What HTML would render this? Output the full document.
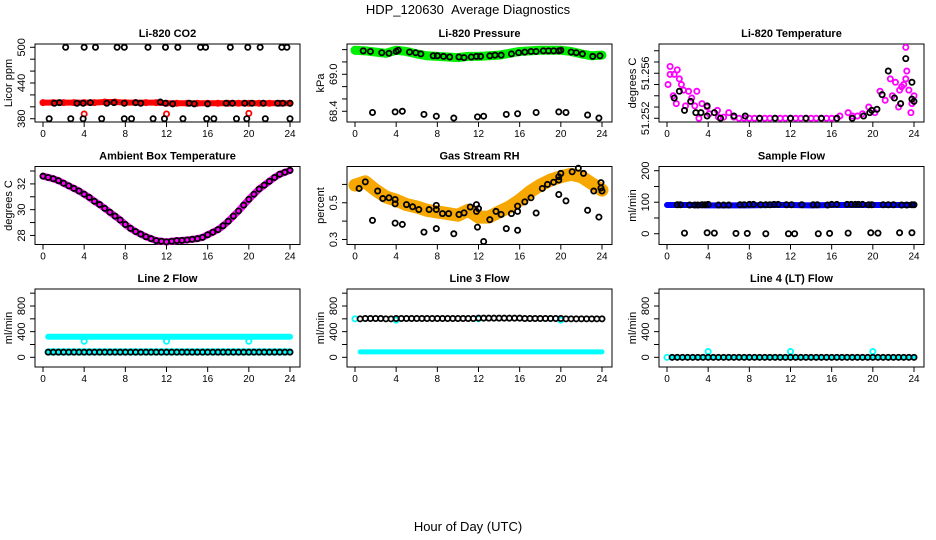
<!DOCTYPE html>
<html><head><meta charset="utf-8"><style>
html,body{margin:0;padding:0;background:#fff;}
svg{display:block;font-family:"Liberation Sans",Arial,sans-serif;}
</style></head><body>
<svg id="chart" width="936" height="540" viewBox="0 0 936 540" xmlns="http://www.w3.org/2000/svg">
<rect x="0" y="0" width="936" height="540" fill="#fff"/>
<text x="468" y="14" font-size="13" text-anchor="middle">HDP_120630 &#160;Average Diagnostics</text>
<text x="468" y="531" font-size="13" text-anchor="middle">Hour of Day (UTC)</text>
</svg>
<script>
// ---------- data ----------
const xTicks=[0,4,8,12,16,20,24];
// P1 CO2
const co2RedHours=[0,1,2,3,4,5,6,7,8,9,10,11,12,13,14,15,16,17,18,19,20,21,22,23,24];
const co2RedValues=[407,407,407,407,407,407,408,408,407,407,407,407,406,406,406,406,406,406,406,406,406,406,406,406,406];
const co2RedOutHours=[4,12,20];
const co2RedOutValues=[388,388,389];
const co2BlackHours=[2.2,4.0,5.1,7.2,7.9,10.2,11.9,13.1,15.3,15.8,18.2,19.9,21.1,23.2,23.7,0.6,2.7,3.9,5.7,7.9,8.6,10.7,11.8,13.6,15.9,16.6,18.8,19.8,21.6,24.0,1.1,1.6,3.3,3.9,4.6,6.2,6.9,7.9,9.0,9.5,11.4,11.9,12.6,14.2,14.7,16.0,17.8,18.4,19.6,20.3,21.4,22.8,23.3,24.0];
const co2BlackValues=[500,500,500,500,500,500,500,500,500,500,500,500,500,500,500,380,380,380,380,380,380,380,380,380,380,380,380,380,380,380,406,407,406,406,407,406,407,406,407,406,408,406,405,406,405,405,406,406,406,406,406,406,406,406];
// P2 Pressure
const presHours=[0,1,2,3,4,5,6,7,8,9,10,11,12,13,14,15,16,17,18,19,20,21,22,23,24];
const presValues=[69.39,69.38,69.36,69.34,69.39,69.37,69.33,69.30,69.29,69.28,69.27,69.29,69.29,69.30,69.31,69.34,69.37,69.38,69.39,69.39,69.39,69.37,69.33,69.30,69.31];
const presBlackHours=[1.7,3.9,4.6,6.7,7.9,9.6,11.9,12.5,14.7,15.8,17.6,19.8,20.5,22.6,23.7,0.8,1.5,2.6,3.3,4.0,4.2,5.3,5.9,6.4,7.6,8.0,8.6,9.2,10.1,10.6,11.3,11.8,12.2,13.1,13.6,14.2,15.2,15.9,16.5,17.1,17.6,18.3,18.8,19.3,19.8,20.0,21.0,21.5,22.1,23.1,23.8];
const presBlackValues=[68.38,68.39,68.40,68.35,68.32,68.29,68.31,68.32,68.35,68.36,68.38,68.39,68.38,68.34,68.29,69.38,69.37,69.35,69.34,69.37,69.39,69.36,69.35,69.33,69.30,69.30,69.29,69.28,69.28,69.27,69.28,69.29,69.29,69.30,69.31,69.31,69.33,69.35,69.36,69.37,69.37,69.38,69.38,69.38,69.38,69.39,69.36,69.35,69.33,69.29,69.30];
// P3 Li-820 Temperature
const tempMagHours=[0.1,0.3,0.3,0.7,1.0,1.2,1.4,0.6,0.9,1.6,2.1,2.4,2.9,1.8,2.7,3.4,3.9,4.1,3.1,4.9,6.0,5.0,5.5,6.5,7.0,7.5,8.0,8.5,9.0,9.5,10.0,10.5,11.0,11.5,12.0,12.5,13.0,13.5,14.0,14.5,15.0,15.5,16.0,16.5,16.8,17.6,18.0,18.5,19.0,19.6,20.2,20.7,21.2,21.7,22.2,22.5,22.8,23.2,23.2,23.3,23.5,23.8,23.7,24.0,21.9,22.6,23.0];
const tempMagValues=[51.2550,51.2566,51.2559,51.2559,51.2563,51.2555,51.2550,51.2540,51.2533,51.2545,51.2544,51.2538,51.2544,51.2531,51.2531,51.2533,51.2530,51.2524,51.2520,51.2527,51.2525,51.2521,51.2521,51.2521,51.2520,51.2520,51.2520,51.2520,51.2520,51.2520,51.2520,51.2520,51.2520,51.2520,51.2520,51.2520,51.2520,51.2520,51.2520,51.2520,51.2520,51.2520,51.2520,51.2520,51.2522,51.2525,51.2522,51.2522,51.2524,51.2530,51.2525,51.2544,51.2536,51.2555,51.2552,51.2530,51.2548,51.2555,51.2583,51.2562,51.2545,51.2533,51.2525,51.2540,51.2540,51.2545,51.2550];
const tempBlackHours=[0.7,1.2,1.7,2.3,2.8,3.3,3.9,3.9,4.6,5.2,6.5,7.6,9.0,10.5,12.0,13.5,15.0,16.5,18.0,19.1,19.7,19.9,20.4,20.9,21.5,22.1,22.7,23.2,23.8,23.8,24.0];
const tempBlackValues=[51.2538,51.2544,51.2527,51.2535,51.2525,51.2525,51.2531,51.2522,51.2525,51.2520,51.2522,51.2522,51.2520,51.2520,51.2520,51.2520,51.2520,51.2520,51.2520,51.2522,51.2525,51.2527,51.2528,51.2541,51.2562,51.2538,51.2533,51.2573,51.2552,51.2537,51.2535];
// P4 Ambient box temperature (half-hourly)
const boxHours=[0,0.5,1,1.5,2,2.5,3,3.5,4,4.5,5,5.5,6,6.5,7,7.5,8,8.5,9,9.5,10,10.5,11,11.5,12,12.5,13,13.5,14,14.5,15,15.5,16,16.5,17,17.5,18,18.5,19,19.5,20,20.5,21,21.5,22,22.5,23,23.5,24];
const boxValues=[32.6,32.5,32.4,32.25,32.05,31.85,31.65,31.45,31.2,30.95,30.65,30.4,30.1,29.8,29.5,29.2,28.85,28.55,28.3,28.1,27.9,27.75,27.6,27.55,27.5,27.55,27.6,27.62,27.65,27.7,27.75,27.85,28.05,28.25,28.45,28.75,29.1,29.5,29.9,30.35,30.8,31.2,31.6,31.9,32.2,32.5,32.75,32.9,33.05];
// P5 Gas stream RH
const rhHours=[0,1,2,3,4,5,6,7,8,9,10,11,12,13,14,15,16,17,18,19,20,21,22,23,24];
const rhValues=[0.596,0.614,0.569,0.532,0.514,0.49,0.477,0.459,0.45,0.441,0.432,0.459,0.422,0.422,0.45,0.477,0.514,0.56,0.596,0.624,0.642,0.655,0.642,0.605,0.569];
const rhBlackHours=[1.7,3.9,4.6,6.7,7.9,9.6,11.9,12.5,14.7,15.8,17.6,19.8,20.5,22.6,23.7,0.4,1.0,2.2,2.7,3.3,3.9,3.9,5.0,5.6,6.2,7.2,7.9,7.9,8.5,9.1,10.1,10.6,11.2,11.8,11.8,12.0,13.1,13.7,14.2,15.2,15.8,15.8,16.5,17.1,18.2,18.7,19.3,19.8,19.8,20.0,21.1,21.7,22.2,23.2,23.9,23.9,24.0];
const rhBlackValues=[0.404,0.389,0.382,0.34,0.359,0.331,0.367,0.289,0.359,0.35,0.444,0.545,0.51,0.459,0.422,0.578,0.614,0.564,0.523,0.527,0.518,0.494,0.49,0.478,0.463,0.463,0.486,0.463,0.441,0.441,0.436,0.445,0.477,0.49,0.453,0.468,0.408,0.453,0.436,0.441,0.482,0.453,0.505,0.527,0.578,0.6,0.612,0.624,0.642,0.66,0.669,0.688,0.66,0.564,0.61,0.58,0.564];
// P6 Sample flow
const sfHours=[0,2,4,6,8,10,12,14,16,18,20,22,24];
const sfValues=[91,91,90,90,90,91,91,90,91,91,91,91,91];
const sfBlackHours=[1.7,3.9,4.6,6.7,7.8,9.6,11.8,12.4,14.7,15.8,17.6,19.8,20.5,22.6,23.8,1.0,1.3,2.2,2.7,3.0,3.4,3.7,4.0,5.0,5.5,6.0,7.1,7.5,8.0,8.4,9.1,9.6,10.0,10.4,10.8,11.6,12.1,13.1,14.2,14.6,15.6,16.0,16.5,17.5,17.9,18.3,18.6,19.0,19.6,19.9,21.0,21.5,22.0,22.8,23.3,23.8,24.0];
const sfBlackValues=[2,3,2,1,1,0,0,0,0,1,2,3,2,3,3,92,92,91,91,91,92,92,93,91,91,91,92,92,93,93,92,92,92,93,93,92,92,92,92,92,91,93,93,93,93,93,93,93,92,92,92,92,92,91,91,92,92];
// Flow panels (half-hourly series)
const flowHours=[0.5,1,1.5,2,2.5,3,3.5,4,4.5,5,5.5,6,6.5,7,7.5,8,8.5,9,9.5,10,10.5,11,11.5,12,12.5,13,13.5,14,14.5,15,15.5,16,16.5,17,17.5,18,18.5,19,19.5,20,20.5,21,21.5,22,22.5,23,23.5,24];
const line2CyanHigh=[320,320,320,320,320,320,320,320,320,320,320,320,320,320,320,320,320,320,320,320,320,320,320,320,320,320,320,320,320,320,320,320,320,320,320,320,320,320,320,320,320,320,320,320,320,320,320,320];
const line2CyanLow=[85,85,85,85,85,85,85,85,85,85,85,85,85,85,85,85,85,85,85,85,85,85,85,85,85,85,85,85,85,85,85,85,85,85,85,85,85,85,85,85,85,85,85,85,85,85,85,85];
const line2Black=[80,80,80,80,80,80,80,80,80,80,80,80,80,80,80,80,80,80,80,80,80,80,80,80,80,80,80,80,80,80,80,80,80,80,80,80,80,80,80,80,80,80,80,80,80,80,80,80];
const line2OutHours=[4,12,20];
const line2OutValues=[250,250,250];
const line3Black=[600,605,605,605,605,600,600,605,605,605,605,605,605,605,605,605,605,605,605,605,605,605,605,610,610,610,610,610,610,610,610,610,605,605,605,605,605,605,605,605,600,600,600,600,600,600,600,600];
const line3CyanLow=[85,85,85,85,85,85,85,85,85,85,85,85,85,85,85,85,85,85,85,85,85,85,85,85,85,85,85,85,85,85,85,85,85,85,85,85,85,85,85,85,85,85,85,85,85,85,85,85];
const line3OutHours=[0,4,12,20];
const line3OutValues=[600,580,600,580];
const line4Black=[0,0,0,0,0,0,0,0,0,0,0,0,0,0,0,0,0,0,0,0,0,0,0,0,0,0,0,0,0,0,0,0,0,0,0,0,0,0,0,0,0,0,0,0,0,0,0,0];
const line4OutHours=[0,4,12,20];
const line4OutValues=[0,90,90,90];

// ---------- layout ----------
const svg=document.getElementById('chart');
const NS='http://www.w3.org/2000/svg';
const colX0=[43,355,667], boxL=[35,347,659], boxW=265;
const rowT=[44,166.5,289], boxH=78;
function X(c,h){return colX0[c]+h*247/24;}
function mk(tag,attrs,parent){const e=document.createElementNS(NS,tag);for(const k in attrs)e.setAttribute(k,attrs[k]);(parent||svg).appendChild(e);return e;}

function panel(c,r,key,title,ylab,usr,ticks,labels){
  const g=mk('g',{});
  
  
  const T=rowT[r],B=T+boxH,L=boxL[c];
  const Y=v=>B-(v-usr[0])/(usr[1]-usr[0])*boxH;
  const t=mk('text',{x:L+boxW/2,y:T-7,'font-size':11,'font-weight':'bold','text-anchor':'middle'},g);
  t.textContent=title;
  
  
  const yl=mk('text',{transform:`translate(${L-23},${(T+B)/2}) rotate(-90)`,'font-size':11,'text-anchor':'middle'},g);
  yl.textContent=ylab;
  
  
  ticks.forEach(v=>{const y=Y(v);mk('line',{x1:L-5,x2:L,y1:y,y2:y,stroke:'#000','stroke-width':1},g);});
  labels.forEach(v=>{const lt=mk('text',{transform:`translate(${L-10},${Y(v)}) rotate(-90)`,'font-size':11,'text-anchor':'middle'},g);lt.textContent=String(v);
    
    });
  xTicks.forEach(h=>{const x=X(c,h);mk('line',{x1:x,x2:x,y1:B,y2:B+5,stroke:'#000','stroke-width':1},g);
    const xt=mk('text',{x:x,y:B+15,'font-size':10,'text-anchor':'middle'},g);xt.textContent=h;
    
    });
  const bx=mk('rect',{x:L,y:T,width:boxW,height:boxH,fill:'none',stroke:'#000','stroke-width':1},g);
  
  
  const pts=mk('g',{},g);
  return {
    band(hs,vs,color,w){const p=mk('polyline',{points:hs.map((h,i)=>X(c,h)+','+Y(vs[i])).join(' '),fill:'none',stroke:color,'stroke-width':w,'stroke-linejoin':'round','stroke-linecap':'round'},pts);
      
      },
    dots(hs,vs,color,sw){hs.forEach((h,i)=>{const d=mk('circle',{cx:X(c,h),cy:Y(vs[i]),r:2.6,fill:'none',stroke:color,'stroke-width':sw||1.8},pts);
      
      });}
  };
}

let p=panel(0,0,'co2','Li-820 CO2','Licor ppm',[374.5,505.5],[380,400,420,440,460,480,500],[380,440,500]);
p.band(co2RedHours,co2RedValues,'#ff0000',6);p.dots(co2RedHours,co2RedValues,'#ff0000');
p.dots(co2RedOutHours,co2RedOutValues,'#ff0000');p.dots(co2BlackHours,co2BlackValues,'#000');

p=panel(1,0,'pressure','Li-820 Pressure','kPa',[68.226,69.491],[68.4,68.6,68.8,69.0,69.2,69.4],['68.4','69.0']);
p.band(presHours,presValues,'#00ee00',9);p.dots(presBlackHours,presBlackValues,'#000');

p=panel(2,0,'li820-temp','Li-820 Temperature','degrees C',[51.25167,51.2586],[51.252,51.253,51.254,51.255,51.256,51.257,51.258],['51.252','51.256']);
p.dots(tempMagHours,tempMagValues,'#ff00ff');p.dots(tempBlackHours,tempBlackValues,'#000');

p=panel(0,1,'ambient-temp','Ambient Box Temperature','degrees C',[27.297,33.35],[28,29,30,31,32,33],[28,30,32]);
p.band(boxHours,boxValues,'#ff00ff',7);p.dots(boxHours,boxValues,'#000');

p=panel(1,1,'gas-rh','Gas Stream RH','percent',[0.2726,0.6976],[0.3,0.4,0.5,0.6],['0.3','0.5']);
p.band(rhHours,rhValues,'#f7a800',13);p.dots(rhBlackHours,rhBlackValues,'#000');

p=panel(2,1,'sample-flow','Sample Flow','ml/min',[-34.2,213.4],[0,50,100,150,200],[0,100,200]);
p.band(sfHours,sfValues,'#0000ff',6);p.dots(sfBlackHours,sfBlackValues,'#000');

const flowUsr=[-151,1065],flowTicks=[0,200,400,600,800,1000],flowLabels=[0,400,800];
p=panel(0,2,'line2-flow','Line 2 Flow','ml/min',flowUsr,flowTicks,flowLabels);
p.band(flowHours,line2CyanHigh,'#00ffff',6);p.band(flowHours,line2CyanLow,'#00ffff',7);
p.dots(line2OutHours,line2OutValues,'#00ffff');p.dots(flowHours,line2Black,'#000');

p=panel(1,2,'line3-flow','Line 3 Flow','ml/min',flowUsr,flowTicks,flowLabels);
p.band(flowHours,line3CyanLow,'#00ffff',5);p.dots(line3OutHours,line3OutValues,'#00ffff');
p.dots(flowHours,line3Black,'#000');

p=panel(2,2,'line4-flow','Line 4 (LT) Flow','ml/min',flowUsr,flowTicks,flowLabels);
p.band(flowHours,line4Black,'#00ffff',5);p.dots(line4OutHours,line4OutValues,'#00ffff');
p.dots(flowHours,line4Black,'#000');
</script>
</body></html>
